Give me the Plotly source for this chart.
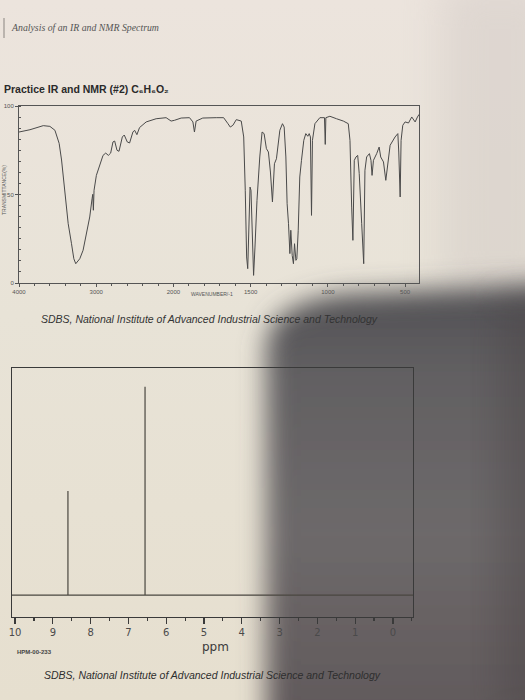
import base64
import plotly.graph_objects as go

# ---------------- data ----------------
ir_wavenumber = [4000,3858,3686,3600,3535,3480,3449,3419,3394,3363,
                 3320,3290,3265,3213,3170,3127,3084,3054,3045,3037,
                 3028,2998,2955,2912,2877,2843,2813,2783,2761,2731,
                 2705,2662,2637,2598,2568,2525,2503,2473,2439,2353,
                 2224,2095,2030,1994,1950,1896,1874,1864,1853,1810,
                 1723,1675,1647,1632,1615,1593,1561,1545,1535,1526,
                 1519,1513,1504,1498,1489,1481,1472,1459,1441,1426,
                 1413,1398,1385,1372,1359,1346,1333,1311,1294,1283,
                 1272,1264,1255,1246,1240,1231,1223,1216,1207,1201,
                 1192,1182,1171,1156,1143,1130,1121,1113,1106,1100,
                 1084,1052,1022,1017,1013,987,944,900,868,857,
                 846,838,829,818,807,797,781,768,760,749,
                 731,721,714,705,684,668,658,640,625,614,
                 597,565,547,541,532,526,515,500,478,457,
                 435,420,409]
ir_transmittance = [85.3,86.6,88.9,88.5,86.3,78.9,69.5,56.1,44.8,33.5,
                    22.2,13.7,10.9,13.7,18.5,27.9,37.3,47.6,50.1,41.1,
                    52.4,60.8,66.5,72.1,73.4,72.1,73.4,79.7,80.2,75.0,
                    74.4,82.5,83.6,79.7,79.1,85.3,86.3,83.8,87.8,91.0,
                    92.8,93.4,91.5,91.9,93.2,93.4,91.0,85.3,91.5,93.2,
                    93.4,93.4,90.0,88.1,89.1,92.3,91.5,82.5,52.4,14.7,
                    8.1,24.1,54.2,52.4,24.1,4.3,20.3,46.7,71.2,85.3,
                    84.4,75.9,74.0,62.7,45.8,67.4,70.2,86.3,90.0,88.1,
                    71.2,44.8,33.5,16.6,29.8,15.6,10.9,22.2,12.8,13.7,
                    29.8,59.9,69.3,80.6,84.4,82.9,84.4,82.5,38.2,80.6,
                    90.0,93.4,93.4,78.3,93.4,94.2,92.8,91.5,90.0,80.6,
                    42.9,24.1,69.3,71.2,72.1,61.8,33.5,10.9,63.7,71.2,
                    73.1,69.3,60.8,69.3,73.1,76.8,71.2,68.4,58.0,65.5,
                    77.8,82.5,84.4,74.0,48.6,80.6,89.1,91.0,90.4,93.8,
                    91.0,93.8,95.3]
ir_tick_wavenumbers = [4000, 3000, 2000, 1500, 1000, 500]
ir_y_ticks = [0, 50, 100]

nmr_ppm = [8.60, 6.56]
nmr_intensity = [1.0, 2.0]
nmr_ticks = [10, 9, 8, 7, 6, 5, 4, 3, 2, 1, 0]

if len(ir_wavenumber) != len(ir_transmittance):
    raise ValueError("IR arrays differ in length")

W, H = 525, 700


def to_u(w):
    # SDBS IR abscissa: 4000-2000 at one scale, 2000-400 at double scale
    return (4000 - w) / 1000 if w >= 2000 else 2 + (2000 - w) / 500


def px(x):
    return x / W


def py(y):
    return 1 - y / H


# ---------------- background (photo of a page with shadow) ----------------
svg = f"""<svg xmlns="http://www.w3.org/2000/svg" width="{W}" height="{H}" viewBox="0 0 {W} {H}">
<defs>
 <linearGradient id="page" x1="0" y1="0" x2="0" y2="1">
  <stop offset="0" stop-color="#ece4dd"/>
  <stop offset="0.45" stop-color="#e8e3d7"/>
  <stop offset="1" stop-color="#e6dfcf"/>
 </linearGradient>
 <linearGradient id="shade" x1="0" y1="0" x2="0" y2="1">
  <stop offset="0" stop-color="#504f53"/>
  <stop offset="0.2" stop-color="#626062"/>
  <stop offset="0.55" stop-color="#6d696a"/>
  <stop offset="1" stop-color="#5f5759"/>
 </linearGradient>
 <filter id="blur" x="-50%" y="-50%" width="200%" height="200%"><feGaussianBlur stdDeviation="13"/></filter>
 <filter id="blur2" x="-50%" y="-50%" width="200%" height="200%"><feGaussianBlur stdDeviation="20"/></filter>
</defs>
<rect width="{W}" height="{H}" fill="url(#page)"/>
<rect x="440" y="-20" width="120" height="320" fill="#cfc7c3" opacity="0.45" filter="url(#blur2)"/>
<path d="M266,740 L266,350 C266,318 292,300 345,294 L560,284 L560,740 Z" fill="url(#shade)" filter="url(#blur)"/>
<rect x="500" y="300" width="60" height="420" fill="#4a4244" opacity="0.45" filter="url(#blur2)"/>
</svg>"""
bg_uri = "data:image/svg+xml;base64," + base64.b64encode(svg.encode()).decode()

fig = go.Figure()

# ---------------- IR spectrum ----------------
fig.add_trace(go.Scatter(
    x=[to_u(w) for w in ir_wavenumber], y=ir_transmittance,
    mode="lines", line=dict(color="#4a4a4a", width=1),
    xaxis="x", yaxis="y", showlegend=False, hoverinfo="skip"))

# ---------------- NMR stick spectrum ----------------
x_left, x_right = 10.08, -0.53
nx, ny = [x_left], [0.0]
for p, h in sorted(zip(nmr_ppm, nmr_intensity), reverse=True):
    nx += [p, p, p]
    ny += [0.0, h, 0.0]
nx.append(x_right)
ny.append(0.0)
fig.add_trace(go.Scatter(
    x=nx, y=ny, mode="lines", line=dict(color="#4a4740", width=1.2),
    xaxis="x2", yaxis="y2", showlegend=False, hoverinfo="skip"))

axis_col = "#555555"
fig.update_layout(
    width=W, height=H,
    margin=dict(l=0, r=0, t=0, b=0),
    paper_bgcolor="#e8e2d6", plot_bgcolor="rgba(0,0,0,0)",
    template="none",
    showlegend=False,
    images=[dict(source=bg_uri, xref="paper", yref="paper", x=0, y=1,
                 sizex=1, sizey=1, xanchor="left", yanchor="top",
                 sizing="stretch", layer="below")],
    xaxis=dict(domain=[px(19), px(419)], range=[0, 5.18], anchor="y",
               showline=True, mirror=True, linecolor=axis_col, linewidth=1,
               showgrid=False, zeroline=False, automargin=False,
               tickmode="array", tickvals=[to_u(w) for w in ir_tick_wavenumbers],
               ticktext=[str(w) for w in ir_tick_wavenumbers],
               ticks="outside", ticklen=3, tickcolor=axis_col,
               tickfont=dict(size=6, color="#555", family="Liberation Sans"),
               minor=dict(dtick=0.2, tick0=0, ticks="outside", ticklen=2, tickcolor=axis_col)),
    yaxis=dict(domain=[py(283), py(106)], range=[0, 100], anchor="x",
               showline=True, mirror=True, linecolor=axis_col, linewidth=1,
               showgrid=False, zeroline=False, automargin=False,
               tickmode="array", tickvals=ir_y_ticks,
               ticktext=[str(v) for v in ir_y_ticks],
               ticks="outside", ticklen=3, tickcolor=axis_col,
               tickfont=dict(size=6, color="#555", family="Liberation Sans"),
               minor=dict(dtick=6.25, tick0=0, ticks="inside", ticklen=2, tickcolor=axis_col)),
    xaxis2=dict(domain=[px(12), px(413)], range=[x_left, x_right], anchor="y2",
                showline=True, mirror=True, linecolor="#3a3a3a", linewidth=1.3,
                showgrid=False, zeroline=False, automargin=False,
                tickmode="array", tickvals=nmr_ticks,
                ticktext=[str(v) for v in nmr_ticks],
                ticks="outside", ticklen=6, tickcolor="#3a3a3a", tickwidth=1.2,
                tickfont=dict(size=10, color="#4a4a4a", family="DejaVu Sans"),
                minor=dict(dtick=0.5, tick0=0, ticks="outside", ticklen=3, tickcolor="#3a3a3a")),
    yaxis2=dict(domain=[py(617), py(368)], range=[-0.21, 2.18], anchor="x2",
                showline=True, mirror=True, linecolor="#3a3a3a", linewidth=1.3,
                showgrid=False, zeroline=False, showticklabels=False,
                ticks="", automargin=False),
)

# header bar
fig.add_shape(type="line", xref="paper", yref="paper",
              x0=px(4), x1=px(4), y0=py(18), y1=py(38),
              line=dict(color="#8a8580", width=1))


def note(text, x, y, size, color="#3a3a3a", family="Liberation Sans",
         xanchor="left", angle=0, style="normal", weight="normal"):
    fig.add_annotation(text=text, xref="paper", yref="paper", x=px(x), y=py(y),
                       xanchor=xanchor, yanchor="middle", showarrow=False,
                       textangle=angle,
                       font=dict(size=size, color=color, family=family,
                                 style=style, weight=weight))


note("Analysis of an IR and NMR Spectrum", 9, 27, 9.8,
     color="#555", family="Liberation Serif", style="italic")
note("Practice IR and NMR (#2) C\u2086H\u2086O\u2082", 2, 89, 10.5,
     color="#2a2a2a", weight="bold")
note("TRANSMITTANCE(%)", 4, 190, 5, color="#555", xanchor="center", angle=-90)
note("WAVENUMBER/-1", 212, 294, 5, color="#555", xanchor="center")
note("SDBS, National Institute of Advanced Industrial Science and Technology",
     209, 319, 10.5, color="#333", xanchor="center", style="italic")
note("ppm", 215, 647, 12, color="#3a3a3a", xanchor="center", family="DejaVu Sans")
note("HPM-00-233", 15, 652, 6, color="#444", weight="bold")
note("SDBS, National Institute of Advanced Industrial Science and Technology",
     212, 675, 10.5, color="#2e2e2e", xanchor="center", style="italic")

fig.write_html("out.html",
               config={"displayModeBar": False, "staticPlot": True},
               post_script="document.body.style.margin='0';"
                           "document.body.style.overflow='hidden';")
